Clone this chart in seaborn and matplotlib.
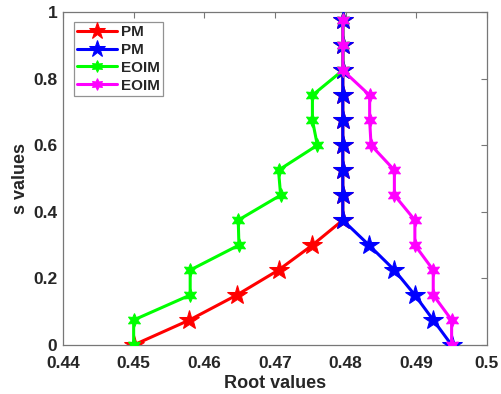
import matplotlib
matplotlib.use('Agg')
import matplotlib.pyplot as plt
import seaborn as sns
import pandas as pd

# s values shared by all four branches
s_vals = [0, 0.075, 0.15, 0.225, 0.3, 0.375, 0.45, 0.525,
          0.6, 0.675, 0.75, 0.825, 0.9, 0.975]

pm_left = [0.45, 0.4579, 0.4646, 0.4705, 0.4753, 0.4796, 0.4796, 0.4796,
           0.4796, 0.4796, 0.4796, 0.4796, 0.4796, 0.4796]
pm_right = [0.4950, 0.4924, 0.4898, 0.4869, 0.4833, 0.4796, 0.4796, 0.4796,
            0.4796, 0.4796, 0.4796, 0.4796, 0.4796, 0.4796]
eoim_left = [0.45, 0.45, 0.4580, 0.4580, 0.4649, 0.4648, 0.4708, 0.4705,
             0.4760, 0.4753, 0.4753, 0.4796, 0.4796, 0.4796]
eoim_right = [0.4950, 0.4950, 0.4924, 0.4924, 0.4898, 0.4898, 0.4869, 0.4869,
              0.4836, 0.4834, 0.4834, 0.4796, 0.4796, 0.4796]

labels = ['PM', 'PM', 'EOIM', 'EOIM']
colors = ['#ff0000', '#0000ff', '#00ff00', '#ff00ff']
series = [pm_left, pm_right, eoim_left, eoim_right]

x_ticks = [0.44, 0.45, 0.46, 0.47, 0.48, 0.49, 0.5]
x_ticklabels = ['0.44', '0.45', '0.46', '0.47', '0.48', '0.49', '0.5']
y_ticks = [0, 0.2, 0.4, 0.6, 0.8, 1]
y_ticklabels = ['0', '0.2', '0.4', '0.6', '0.8', '1']

sns.set_theme(style='white')
plt.rcParams['font.family'] = ['Liberation Sans', 'DejaVu Sans']
plt.rcParams['font.weight'] = 'bold'

fig = plt.figure(figsize=(5.02, 3.94), dpi=100)
ax = fig.add_axes([0.1255, 0.1244, 0.8445, 0.8451])

hexagram = (6, 1, 0)
for i, (xs, lab, col) in enumerate(zip(series, labels, colors)):
    df = pd.DataFrame({'root': xs, 's': s_vals})
    if lab == 'PM':
        mk, ms = '*', 15
    else:
        mk, ms = hexagram, 10
    sns.lineplot(data=df, x='root', y='s', ax=ax, sort=False, estimator=None,
                 color=col, label=lab, lw=2.2, marker=mk, markersize=ms,
                 markeredgecolor=col, markerfacecolor=col, zorder=2 + i)

ax.set_xlim(0.44, 0.5)
ax.set_ylim(0, 1)
ax.set_xticks(x_ticks)
ax.set_xticklabels(x_ticklabels)
ax.set_yticks(y_ticks)
ax.set_yticklabels(y_ticklabels)
ax.tick_params(direction='in', length=4, width=0.8, colors='#777777',
               labelcolor='#262626', labelsize=12.5, top=True, right=True)
ax.tick_params(axis='x', pad=8)
ax.tick_params(axis='y', pad=4)
for lbl in ax.get_xticklabels() + ax.get_yticklabels():
    lbl.set_fontweight('bold')
for sp in ax.spines.values():
    sp.set_color('#777777')
    sp.set_linewidth(0.9)

ax.set_xlabel('Root values', fontsize=13, fontweight='bold', color='#262626', labelpad=3)
ax.set_ylabel('s values', fontsize=13, fontweight='bold', color='#262626', labelpad=3)

leg = ax.legend(loc='upper left', bbox_to_anchor=(0.026, 0.97), fontsize=11,
                frameon=True, fancybox=False, edgecolor='#777777',
                handlelength=2.6, handletextpad=0.3, borderpad=0.2,
                labelspacing=0.25, borderaxespad=0, markerscale=0.85)
leg.get_frame().set_linewidth(0.9)
for t in leg.get_texts():
    t.set_fontweight('bold')

fig.savefig('out.png', dpi=100)
